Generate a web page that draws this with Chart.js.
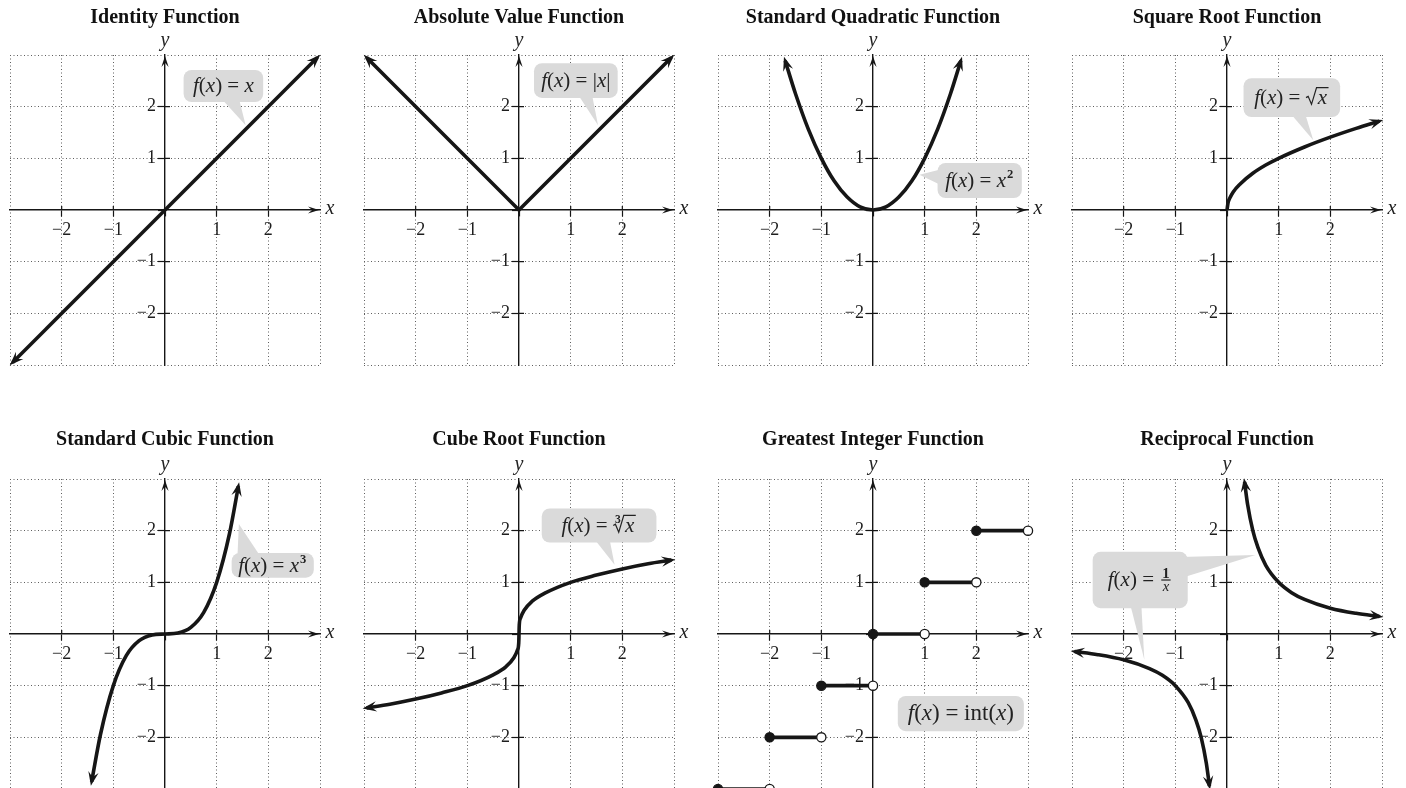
<!DOCTYPE html>
<html>
<head>
<meta charset="utf-8">
<script src="https://cdn.jsdelivr.net/npm/chart.js@4.4.1/dist/chart.umd.min.js"></script>
<style>
html, body { margin: 0; padding: 0; background: #fff; }
#wrap { position: relative; width: 1406px; height: 788px; overflow: hidden; }
canvas { position: absolute; }
</style>
</head>
<body>
<div id="wrap"></div>
<script>
// tick labels shown on both axes
const tickValues = [-2, -1, 1, 2];
const tickLabels = ['\u22122', '\u22121', '1', '2'];

// curves
const identityX = [-2.95, 2.95];
const identityY = [-2.95, 2.95];

const absX = [-2.95, 0, 2.95];
const absY = [2.95, 0, 2.95];

const quadX = [-1.7, -1.5, -1.25, -1, -0.75, -0.5, -0.25, 0, 0.25, 0.5, 0.75, 1, 1.25, 1.5, 1.7];
const quadY = [2.89, 2.25, 1.56, 1, 0.56, 0.25, 0.06, 0, 0.06, 0.25, 0.56, 1, 1.56, 2.25, 2.89];

const sqrtX = [0, 0.02, 0.06, 0.12, 0.25, 0.5, 0.75, 1, 1.5, 2, 2.5, 2.95];
const sqrtY = [0, 0.14, 0.24, 0.35, 0.5, 0.71, 0.87, 1, 1.22, 1.41, 1.58, 1.72];

const cubeX = [-1.42, -1.25, -1, -0.75, -0.5, -0.25, 0, 0.25, 0.5, 0.75, 1, 1.25, 1.42];
const cubeY = [-2.86, -1.95, -1, -0.42, -0.13, -0.02, 0, 0.02, 0.13, 0.42, 1, 1.95, 2.86];

const cbrtX = [-2.95, -2.5, -2, -1.5, -1, -0.5, -0.25, -0.1, -0.03, -0.005, 0, 0.005, 0.03, 0.1, 0.25, 0.5, 1, 1.5, 2, 2.5, 2.95];
const cbrtY = [-1.43, -1.36, -1.26, -1.14, -1, -0.79, -0.63, -0.46, -0.31, -0.17, 0, 0.17, 0.31, 0.46, 0.63, 0.79, 1, 1.14, 1.26, 1.36, 1.43];

const stepStart = [-3, -2, -1, 0, 1, 2];
const stepEnd = [-2, -1, 0, 1, 2, 3];
const stepValue = [-3, -2, -1, 0, 1, 2];

const recipRightX = [0.34, 0.4, 0.5, 0.6, 0.75, 1, 1.25, 1.5, 2, 2.5, 2.95];
const recipRightY = [2.94, 2.5, 2, 1.67, 1.33, 1, 0.8, 0.67, 0.5, 0.4, 0.34];
const recipLeftX = [-2.95, -2.5, -2, -1.5, -1.25, -1, -0.75, -0.6, -0.5, -0.4, -0.34];
const recipLeftY = [-0.34, -0.4, -0.5, -0.67, -0.8, -1, -1.33, -1.67, -2, -2.5, -2.94];

const titles = ['Identity Function', 'Absolute Value Function', 'Standard Quadratic Function', 'Square Root Function',
  'Standard Cubic Function', 'Cube Root Function', 'Greatest Integer Function', 'Reciprocal Function'];

const INK = '#161616';
const BUBBLE = '#dadada';
const SERIF = '"Liberation Serif", "Times New Roman", serif';

function pts(xs, ys) {
  return xs.map((x, i) => ({x: x, y: ys[i]}));
}

function curve(xs, ys, arrowStart, arrowEnd, smooth) {
  return {
    data: pts(xs, ys), showLine: true, borderColor: INK, borderWidth: 3.6,
    pointRadius: 0, clip: false, tension: 0,
    cubicInterpolationMode: smooth ? 'monotone' : 'default',
    arrowStart: arrowStart, arrowEnd: arrowEnd
  };
}

function font(style, size) {
  if (style === 'i') return 'italic ' + size + 'px ' + SERIF;
  if (style === 'b') return 'bold ' + size + 'px ' + SERIF;
  return size + 'px ' + SERIF;
}

function measureRun(ctx, r, size) {
  if (r.sup) { ctx.font = font('b', size * 0.6); return ctx.measureText(r.sup).width + 2; }
  if (r.frac) {
    ctx.font = font('b', size * 0.7);
    const a = ctx.measureText(r.frac[0]).width;
    ctx.font = font('i', size * 0.7);
    const b = ctx.measureText(r.frac[1]).width;
    return Math.max(a, b) + 6;
  }
  if (r.root) { ctx.font = font('i', size); return size * 0.6 + ctx.measureText(r.root).width + 2; }
  ctx.font = font(r.s, size);
  return ctx.measureText(r.t).width;
}

function drawRuns(ctx, runs, cx, cy, size) {
  const widths = runs.map(r => measureRun(ctx, r, size));
  const total = widths.reduce((a, b) => a + b, 0);
  let x = cx - total / 2;
  const base = cy + size * 0.3;
  ctx.fillStyle = '#222';
  ctx.strokeStyle = '#222';
  ctx.textBaseline = 'alphabetic';
  runs.forEach((r, i) => {
    const w = widths[i];
    ctx.textAlign = 'left';
    if (r.sup) {
      ctx.font = font('b', size * 0.6);
      ctx.fillText(r.sup, x + 1, base - size * 0.4);
    } else if (r.frac) {
      const ax = base - size * 0.3;
      ctx.textAlign = 'center';
      ctx.font = font('b', size * 0.7);
      ctx.fillText(r.frac[0], x + w / 2, ax - 2);
      ctx.font = font('i', size * 0.7);
      ctx.fillText(r.frac[1], x + w / 2, ax + size * 0.52);
      ctx.lineWidth = 1.2;
      ctx.beginPath();
      ctx.moveTo(x + 2, ax);
      ctx.lineTo(x + w - 2, ax);
      ctx.stroke();
    } else if (r.root) {
      ctx.font = font('i', size);
      const tw = ctx.measureText(r.root).width;
      ctx.lineWidth = 1.2;
      ctx.beginPath();
      ctx.moveTo(x + size * 0.02, base - size * 0.3);
      ctx.lineTo(x + size * 0.12, base - size * 0.36);
      ctx.lineTo(x + size * 0.28, base + size * 0.02);
      ctx.lineTo(x + size * 0.52, base - size * 0.78);
      ctx.lineTo(x + size * 0.6 + tw + 1, base - size * 0.78);
      ctx.stroke();
      ctx.fillText(r.root, x + size * 0.58, base);
      if (r.idx) {
        ctx.font = font('b', size * 0.55);
        ctx.fillText(r.idx, x + size * 0.1, base - size * 0.42);
      }
    } else {
      ctx.font = font(r.s, size);
      ctx.fillText(r.t, x, base);
    }
    x += w;
  });
}

function arrowHead(ctx, x, y, ux, uy, len, half) {
  const px = -uy, py = ux;
  ctx.beginPath();
  ctx.moveTo(x, y);
  ctx.lineTo(x - ux * len + px * half, y - uy * len + py * half);
  ctx.lineTo(x - ux * len * 0.62, y - uy * len * 0.62);
  ctx.lineTo(x - ux * len - px * half, y - uy * len - py * half);
  ctx.closePath();
  ctx.fill();
}

function unit(dx, dy) {
  const d = Math.hypot(dx, dy) || 1;
  return [dx / d, dy / d];
}

function decor(callout) {
  return {
    id: 'decor',
    beforeDatasetsDraw(chart) {
      const ctx = chart.ctx;
      const X = v => chart.scales.x.getPixelForValue(v);
      const Y = v => chart.scales.y.getPixelForValue(v);
      const x0 = X(0), y0 = Y(0);
      // tick marks cross the axes a little on the other side too
      ctx.save();
      ctx.strokeStyle = INK;
      ctx.lineWidth = 1.2;
      ctx.beginPath();
      tickValues.forEach(v => {
        ctx.moveTo(x0, Y(v)); ctx.lineTo(x0 + 5, Y(v));
        ctx.moveTo(X(v), y0); ctx.lineTo(X(v), y0 - 4);
      });
      ctx.stroke();
      ctx.restore();
      if (!callout) return;
      const b = callout.box;
      const x1 = X(b[0]), y1 = Y(b[1]), x2 = X(b[2]), y2 = Y(b[3]);
      ctx.save();
      ctx.fillStyle = BUBBLE;
      ctx.beginPath();
      ctx.roundRect(x1, y1, x2 - x1, y2 - y1, 8);
      ctx.fill();
      (callout.pointers || []).forEach(p => {
        ctx.beginPath();
        ctx.moveTo(X(p[0]), Y(p[1]));
        ctx.lineTo(X(p[2]), Y(p[3]));
        ctx.lineTo(X(p[4]), Y(p[5]));
        ctx.closePath();
        ctx.fill();
      });
      drawRuns(ctx, callout.runs, (x1 + x2) / 2, (y1 + y2) / 2, callout.size || 21);
      ctx.restore();
    },
    afterDatasetsDraw(chart) {
      const ctx = chart.ctx;
      ctx.save();
      ctx.fillStyle = INK;
      chart.data.datasets.forEach((ds, i) => {
        const els = chart.getDatasetMeta(i).data;
        if (els.length < 2) return;
        if (ds.arrowEnd) {
          const p = els[els.length - 1], q = els[els.length - 2];
          const useCp = p.cp1x !== undefined && Math.hypot(p.x - p.cp1x, p.y - p.cp1y) > 0.5;
          const [ux, uy] = useCp ? unit(p.x - p.cp1x, p.y - p.cp1y) : unit(p.x - q.x, p.y - q.y);
          arrowHead(ctx, p.x + ux * 4, p.y + uy * 4, ux, uy, 14, 5.2);
        }
        if (ds.arrowStart) {
          const p = els[0], q = els[1];
          const useCp = p.cp2x !== undefined && Math.hypot(p.x - p.cp2x, p.y - p.cp2y) > 0.5;
          const [ux, uy] = useCp ? unit(p.x - p.cp2x, p.y - p.cp2y) : unit(p.x - q.x, p.y - q.y);
          arrowHead(ctx, p.x + ux * 4, p.y + uy * 4, ux, uy, 14, 5.2);
        }
      });
      ctx.restore();
    },
    afterDraw(chart) {
      const ctx = chart.ctx;
      const a = chart.chartArea;
      const x0 = chart.scales.x.getPixelForValue(0);
      const y0 = chart.scales.y.getPixelForValue(0);
      ctx.save();
      ctx.fillStyle = INK;
      arrowHead(ctx, a.right - 1, y0, 1, 0, 11, 3.6);
      arrowHead(ctx, x0, a.top + 1, 0, -1, 11, 3.6);
      ctx.font = font('i', 20);
      ctx.textAlign = 'center';
      ctx.textBaseline = 'middle';
      ctx.fillStyle = '#222';
      ctx.fillText('x', a.right + 10, y0 - 1);
      ctx.fillText('y', x0, a.top - 14);
      ctx.restore();
    }
  };
}

function xTickText(v) {
  const i = tickValues.indexOf(v);
  return i < 0 ? '' : tickLabels[i];
}

// labels on the centred y axis sit right on it, so pad them with an en space
function yTickText(v) {
  const i = tickValues.indexOf(v);
  return i < 0 ? '' : tickLabels[i] + '\u2002';
}

function axis(pos, cb, pad) {
  return {
    type: 'linear', min: -3, max: 3, position: pos,
    ticks: {stepSize: 1, autoSkip: false, maxRotation: 0, callback: cb,
      font: {family: SERIF, size: 18}, color: '#1e1e1e', padding: pad},
    grid: {
      color: c => (c.tick && c.tick.value === 0) ? 'rgba(0,0,0,0)' : '#5e5e5e',
      lineWidth: 1, tickLength: 6, tickWidth: 1.2,
      tickColor: c => (c.tick && Math.abs(c.tick.value) >= 3) ? 'rgba(0,0,0,0)' : INK
    },
    border: {display: true, color: INK, width: 1.4, dash: [1, 2.5]}
  };
}

const fx = [{t: 'f', s: 'i'}, {t: '(', s: 'r'}, {t: 'x', s: 'i'}, {t: ')', s: 'r'}, {t: ' = ', s: 'r'}];

const panels = [
  {datasets: [curve(identityX, identityY, true, true, false)],
   callout: {box: [0.36, 2.71, 1.9, 2.09], pointers: [[1.05, 2.2, 1.42, 2.2, 1.56, 1.64]],
     runs: fx.concat([{t: 'x', s: 'i'}])}},
  {datasets: [curve(absX, absY, true, true, false)],
   callout: {box: [0.29, 2.84, 1.91, 2.17], pointers: [[1.1, 2.3, 1.4, 2.3, 1.53, 1.64]],
     runs: fx.concat([{t: '|', s: 'r'}, {t: 'x', s: 'i'}, {t: '|', s: 'r'}])}},
  {datasets: [curve(quadX, quadY, true, true, true)],
   callout: {box: [1.25, 0.91, 2.88, 0.23], pointers: [[1.4, 0.81, 1.4, 0.44, 0.9, 0.68]],
     runs: fx.concat([{t: 'x', s: 'i'}, {sup: '2'}])}},
  {datasets: [curve(sqrtX, sqrtY, false, true, true)],
   callout: {box: [0.32, 2.55, 2.19, 1.8], pointers: [[1.2, 1.9, 1.5, 1.9, 1.67, 1.35]],
     runs: fx.concat([{root: 'x'}])}},
  {datasets: [curve(cubeX, cubeY, true, true, true)],
   callout: {box: [1.29, 1.57, 2.88, 1.09], pointers: [[1.4, 1.45, 1.88, 1.45, 1.43, 2.13]],
     runs: fx.concat([{t: 'x', s: 'i'}, {sup: '3'}])}},
  {datasets: [curve(cbrtX, cbrtY, true, true, true)],
   callout: {box: [0.44, 2.43, 2.66, 1.77], pointers: [[1.45, 1.85, 1.75, 1.85, 1.85, 1.34]],
     runs: fx.concat([{root: 'x', idx: '3'}])}},
  {datasets: stepStart.map((s, i) => ({
      data: [{x: s, y: stepValue[i]}, {x: stepEnd[i], y: stepValue[i]}],
      showLine: true, borderColor: INK, borderWidth: 3.6, clip: false,
      pointRadius: 4.6, pointBorderWidth: 1.3, pointBorderColor: INK,
      pointBackgroundColor: [INK, '#fff']
    })),
   callout: {box: [0.48, -1.2, 2.92, -1.88], size: 23,
     runs: [{t: 'f', s: 'i'}, {t: '(', s: 'r'}, {t: 'x', s: 'i'}, {t: ') = int(', s: 'r'}, {t: 'x', s: 'i'}, {t: ')', s: 'r'}]}},
  {datasets: [curve(recipRightX, recipRightY, true, true, true), curve(recipLeftX, recipLeftY, true, true, true)],
   callout: {box: [-2.6, 1.59, -0.76, 0.5],
     pointers: [[-0.9, 1.49, -0.9, 1.08, 0.55, 1.53], [-1.88, 0.6, -1.66, 0.6, -1.6, -0.5]],
     runs: fx.concat([{frac: ['1', 'x']}])}}
];

const wrap = document.getElementById('wrap');
panels.forEach((p, i) => {
  const col = i % 4, row = Math.floor(i / 4);
  const cv = document.createElement('canvas');
  cv.width = 354;
  cv.height = 400;
  cv.style.left = (col * 354) + 'px';
  cv.style.top = (row ? 420 : 0) + 'px';
  wrap.appendChild(cv);
  const padTop = row ? 8 : 6;
  const padBottom = row ? 27 : 25;
  const plotTop = padTop + 24 + padBottom;
  new Chart(cv.getContext('2d'), {
    type: 'scatter',
    data: {datasets: p.datasets},
    options: {
      responsive: false, animation: false, devicePixelRatio: 1,
      layout: {padding: {left: 10, right: 34, top: 0, bottom: 400 - plotTop - 310}},
      plugins: {
        legend: {display: false}, tooltip: {enabled: false},
        title: {display: true, text: titles[i], color: '#111',
          font: {family: SERIF, size: 20, weight: 'bold', lineHeight: 1.2},
          padding: {top: padTop, bottom: padBottom}}
      },
      scales: {x: axis({y: 0}, xTickText, 3), y: axis({x: 0}, yTickText, 4)}
    },
    plugins: [decor(p.callout)]
  });
});
</script>
</body>
</html>
